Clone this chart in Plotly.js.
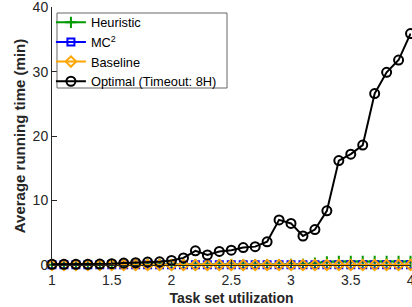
<!DOCTYPE html>
<html>
<head>
<meta charset="utf-8">
<script src="https://cdn.plot.ly/plotly-3.0.1.min.js"></script>
<style>html,body{margin:0;padding:0;background:#fff;}#chart{width:412px;height:307px;}</style>
</head>
<body>
<div id="chart"></div>
<script>
const utilization = [1.0,1.1,1.2,1.3,1.4,1.5,1.6,1.7,1.8,1.9,2.0,2.1,2.2,2.3,2.4,2.5,2.6,2.7,2.8,2.9,3.0,3.1,3.2,3.3,3.4,3.5,3.6,3.7,3.8,3.9,4.0];
const heuristic = [0.05,0.05,0.05,0.05,0.05,0.05,0.05,0.05,0.05,0.05,0.05,0.05,0.05,0.05,0.05,0.05,0.05,0.05,0.05,0.05,0.1,0.1,0.3,0.5,0.55,0.55,0.55,0.55,0.55,0.55,0.55];
const mc2 = [0.02,0.02,0.02,0.02,0.02,0.02,0.02,0.02,0.02,0.02,0.02,0.02,0.02,0.02,0.02,0.02,0.02,0.02,0.02,0.02,0.02,0.02,0.02,0.02,0.02,0.02,0.02,0.02,0.02,0.02,0.02];
const baseline = [0,0,0,0,0,0,0,0,0,0,0,0,0,0,0,0,0,0,0,0,0,0,0,0,0,0,0,0,0,0,0];
const optimal = [0.1,0.1,0.1,0.1,0.15,0.2,0.3,0.35,0.45,0.5,0.7,1.1,2.2,1.55,2.1,2.3,2.7,2.85,3.6,7.0,6.45,4.5,5.5,8.4,16.2,17.2,18.6,26.6,29.9,31.8,35.9];
const xTickVals = [1,1.5,2,2.5,3,3.5,4];
const xTickText = ['1','1.5','2','2.5','3','3.5','4'];
const yTickVals = [0,10,20,30,40];
const yTickText = ['0','10','20','30','40'];

const FONT = 'Liberation Sans, Arial, Helvetica, sans-serif';
const traces = [
  {x: utilization, y: heuristic, name: 'Heuristic', mode: 'lines+markers', cliponaxis: false,
   line: {color: '#009900', width: 2}, marker: {symbol: 'cross-thin-open', size: 8, color: '#009900', line: {color: '#009900', width: 2}}},
  {x: utilization, y: mc2, name: 'MC<sup>2</sup>', mode: 'lines+markers', cliponaxis: false,
   line: {color: '#0000FF', width: 2}, marker: {symbol: 'square-open', size: 7, color: '#0000FF', line: {width: 2}}},
  {x: utilization, y: baseline, name: 'Baseline', mode: 'lines+markers', cliponaxis: false,
   line: {color: '#FFA500', width: 2}, marker: {symbol: 'diamond-open', size: 8, color: '#FFA500', line: {width: 2}}},
  {x: utilization, y: optimal, name: 'Optimal (Timeout: 8H)', mode: 'lines+markers', cliponaxis: false,
   line: {color: '#000000', width: 2}, marker: {symbol: 'circle-open', size: 9, color: '#000000', line: {width: 2}}}
];

const layout = {
  width: 412, height: 307,
  margin: {l: 52, r: 1, t: 7, b: 42},
  paper_bgcolor: '#ffffff', plot_bgcolor: '#ffffff',
  font: {family: FONT, size: 14, color: '#262626'},
  showlegend: true,
  legend: {x: -0.003, y: 0.998, xanchor: 'left', yanchor: 'top', bgcolor: 'rgba(0,0,0,0)',
           borderwidth: 0, font: {family: FONT, size: 12.8, color: '#000000'},
           itemwidth: 30, tracegroupgap: 0},
  shapes: [
    {type: 'rect', xref: 'paper', yref: 'paper', x0: 0.0139, x1: 0.4875, y0: 0.686, y1: 0.9767,
     fillcolor: '#ffffff', line: {color: '#666666', width: 1}, layer: 'above'}
  ],
  xaxis: {range: [1, 4.004], tickvals: xTickVals, ticktext: xTickText, ticks: 'inside', ticklen: 5,
          tickcolor: '#262626', showline: true, linecolor: '#262626', linewidth: 1,
          showgrid: false, zeroline: false, tickfont: {size: 14, color: '#262626'}, ticklabelstandoff: 2,
          ticklabeloverflow: 'allow',
          title: {text: 'Task set utilization', font: {family: FONT, size: 14, weight: 'bold', color: '#262626'}, standoff: 6}},
  yaxis: {range: [0, 40.03], tickvals: yTickVals, ticktext: yTickText, ticks: 'inside', ticklen: 5,
          tickcolor: '#262626', showline: true, linecolor: '#262626', linewidth: 1,
          showgrid: false, zeroline: false, tickfont: {size: 14, color: '#262626'},
          ticklabeloverflow: 'allow',
          title: {text: 'Average running time (min)', font: {family: FONT, size: 15, weight: 'bold', color: '#262626'}, standoff: 3}}
};

Plotly.newPlot('chart', traces, layout, {displayModeBar: false, staticPlot: true});
</script>
</body>
</html>
